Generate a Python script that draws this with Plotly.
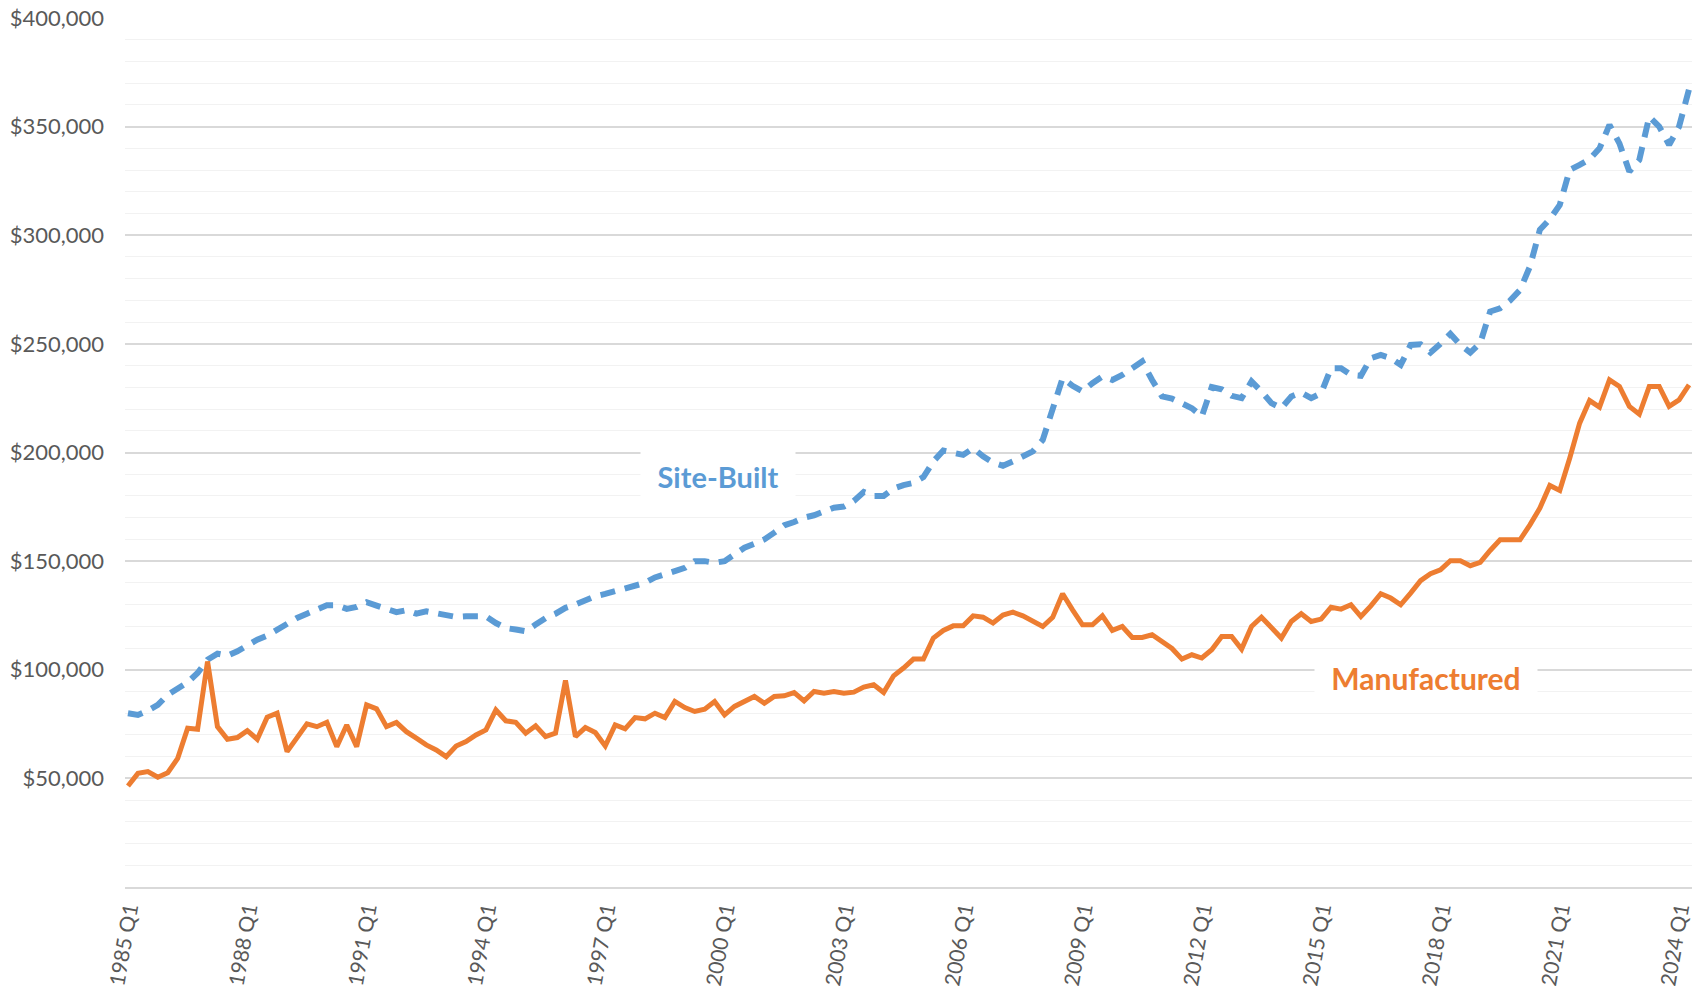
import plotly.graph_objects as go

# ---- data (thousands of dollars), quarterly 1985 Q1 .. 2024 Q2 ----
quarters = [f"{y} Q{q}" for y in range(1985, 2025) for q in range(1, 5)][:158]

site_built_k = [
    80.0, 79.2, 81.2, 83.8, 88.5, 91.1, 94.2, 98.5, 104.6, 107.4,
    106.5, 108.5, 111.5, 113.8, 115.7, 118.5, 121.5, 123.8, 125.8, 128.0,
    129.7, 129.7, 128.0, 128.9, 131.1, 129.5, 127.8, 126.5, 127.4, 125.8,
    126.9, 125.8, 124.9, 124.3, 124.6, 124.6, 124.6, 121.5, 119.2, 118.5,
    117.7, 120.8, 123.8, 125.8, 128.5, 130.0, 132.0, 133.8, 134.9, 136.2,
    137.7, 138.8, 140.0, 142.5, 144.3, 145.4, 146.9, 150.0, 150.0, 149.2,
    150.0, 153.1, 156.2, 158.0, 160.0, 163.1, 166.5, 168.0, 170.0, 171.1,
    172.8, 174.6, 175.1, 177.7, 181.8, 180.0, 180.0, 183.4, 185.0, 186.0,
    188.7, 195.9, 200.9, 199.7, 198.9, 202.0, 198.2, 195.4, 193.9, 195.9,
    198.2, 200.5, 205.8, 220.0, 234.2, 230.7, 228.1, 231.9, 235.0, 233.4,
    235.7, 238.8, 241.9, 233.4, 225.8, 224.8, 222.7, 220.4, 216.6, 230.1,
    229.1, 226.1, 225.0, 232.7, 228.1, 222.7, 220.4, 225.8, 227.6, 225.0,
    227.3, 238.8, 238.8, 235.7, 235.3, 243.4, 244.9, 243.4, 240.3, 249.5,
    249.8, 246.0, 250.0, 254.6, 249.5, 246.0, 250.3, 264.9, 266.4, 269.9,
    274.8, 285.6, 302.5, 307.4, 314.0, 330.1, 332.4, 335.0, 340.0, 350.8,
    342.3, 329.3, 334.7, 354.6, 350.0, 341.6, 350.0, 367.2,
]

manufactured_k = [
    46.5, 52.3, 53.1, 50.5, 52.6, 59.2, 73.1, 72.6, 103.8, 73.8,
    68.0, 68.8, 72.0, 68.0, 78.2, 80.0, 62.3, 68.9, 75.1, 73.8,
    75.8, 64.6, 74.6, 64.6, 83.8, 82.0, 73.8, 75.7, 71.5, 68.5,
    65.4, 63.1, 60.0, 64.9, 66.9, 70.0, 72.3, 81.5, 76.5, 75.8,
    70.8, 74.2, 69.2, 70.8, 95.1, 69.2, 73.4, 71.1, 64.9, 74.6,
    72.8, 78.0, 77.4, 80.0, 78.0, 85.4, 82.6, 80.8, 81.8, 85.4,
    79.2, 83.1, 85.1, 87.7, 84.6, 87.7, 88.0, 89.5, 85.7, 90.0,
    89.2, 90.0, 89.2, 89.7, 92.0, 93.1, 89.5, 97.2, 100.8, 104.9,
    104.9, 114.6, 118.1, 120.2, 120.2, 124.8, 124.2, 121.5, 125.2, 126.5,
    124.8, 122.2, 119.9, 124.1, 135.0, 127.6, 120.7, 120.7, 124.8, 118.1,
    119.9, 114.9, 114.9, 116.1, 112.6, 109.8, 104.9, 106.9, 105.4, 109.2,
    115.3, 115.3, 109.5, 119.9, 124.2, 119.2, 114.6, 122.2, 125.8, 122.2,
    123.3, 128.8, 127.9, 129.9, 124.5, 129.4, 135.0, 133.0, 129.9, 135.3,
    141.0, 144.2, 146.0, 150.2, 150.2, 147.9, 149.4, 154.9, 159.8, 159.8,
    159.8, 166.7, 174.4, 184.8, 182.5, 197.4, 213.5, 223.9, 220.9, 233.4,
    230.4, 221.2, 217.6, 230.4, 230.4, 221.2, 224.2, 231.1,
]

x_tick_labels = [f"{y} Q1" for y in range(1985, 2025, 3)]
y_tick_values = [50000, 100000, 150000, 200000, 250000, 300000, 350000, 400000]
y_tick_labels = ["$50,000", "$100,000", "$150,000", "$200,000",
                 "$250,000", "$300,000", "$350,000", "$400,000"]

site_built = [v * 1000 for v in site_built_k]
manufactured = [v * 1000 for v in manufactured_k]

BLUE = "#5B9BD5"
ORANGE = "#ED7D31"
FONT = "Lato"

fig = go.Figure()
fig.add_trace(go.Scatter(
    x=quarters, y=site_built, mode="lines", name="Site-Built",
    line=dict(color=BLUE, width=6, dash="15px,10px"),
))
fig.add_trace(go.Scatter(
    x=quarters, y=manufactured, mode="lines", name="Manufactured",
    line=dict(color=ORANGE, width=5),
))

fig.update_layout(
    width=1692, height=992,
    margin=dict(l=125, r=0, t=18, b=105, autoexpand=False),
    paper_bgcolor="white", plot_bgcolor="white",
    showlegend=False,
    font=dict(family=FONT, color="#595959"),
    xaxis=dict(
        type="category",
        categoryorder="array", categoryarray=quarters,
        range=[-0.3, 157.3],
        autorange=False,
        automargin=False,
        tickmode="array", tickvals=x_tick_labels, ticktext=x_tick_labels,
        tickangle=-80,
        tickfont=dict(family=FONT, size=21, color="#595959"),
        showgrid=False, zeroline=False,
        showline=True, linecolor="#d9d9d9", linewidth=1.5,
        ticks="",
    ),
    yaxis=dict(
        range=[0, 400000],
        autorange=False,
        automargin=False,
        tickmode="array", tickvals=y_tick_values, ticktext=y_tick_labels,
        tickfont=dict(family=FONT, size=22, color="#595959"),
        showgrid=True, gridcolor="#d9d9d9", gridwidth=1.5,
        zeroline=False, showline=False, ticks="",
        ticklabelstandoff=20,
        minor=dict(tickmode="linear", tick0=0, dtick=10000,
                   showgrid=True, gridcolor="#f2f2f2", gridwidth=1.3),
    ),
    annotations=[
        dict(x=59.3, y=189000, xref="x", yref="y", text="<b>Site-Built</b>",
             showarrow=False, font=dict(family=FONT, size=29, color=BLUE),
             bgcolor="white", width=154, height=50, borderpad=0),
        dict(x=130.5, y=96400, xref="x", yref="y", text="<b>Manufactured</b>",
             showarrow=False, font=dict(family=FONT, size=30, color=ORANGE),
             bgcolor="white", width=222, height=54, borderpad=0),
    ],
)

fig.write_html(
    "out.html",
    config={"displayModeBar": False},
    post_script="document.body.style.margin='0';document.body.style.overflow='hidden';",
)
